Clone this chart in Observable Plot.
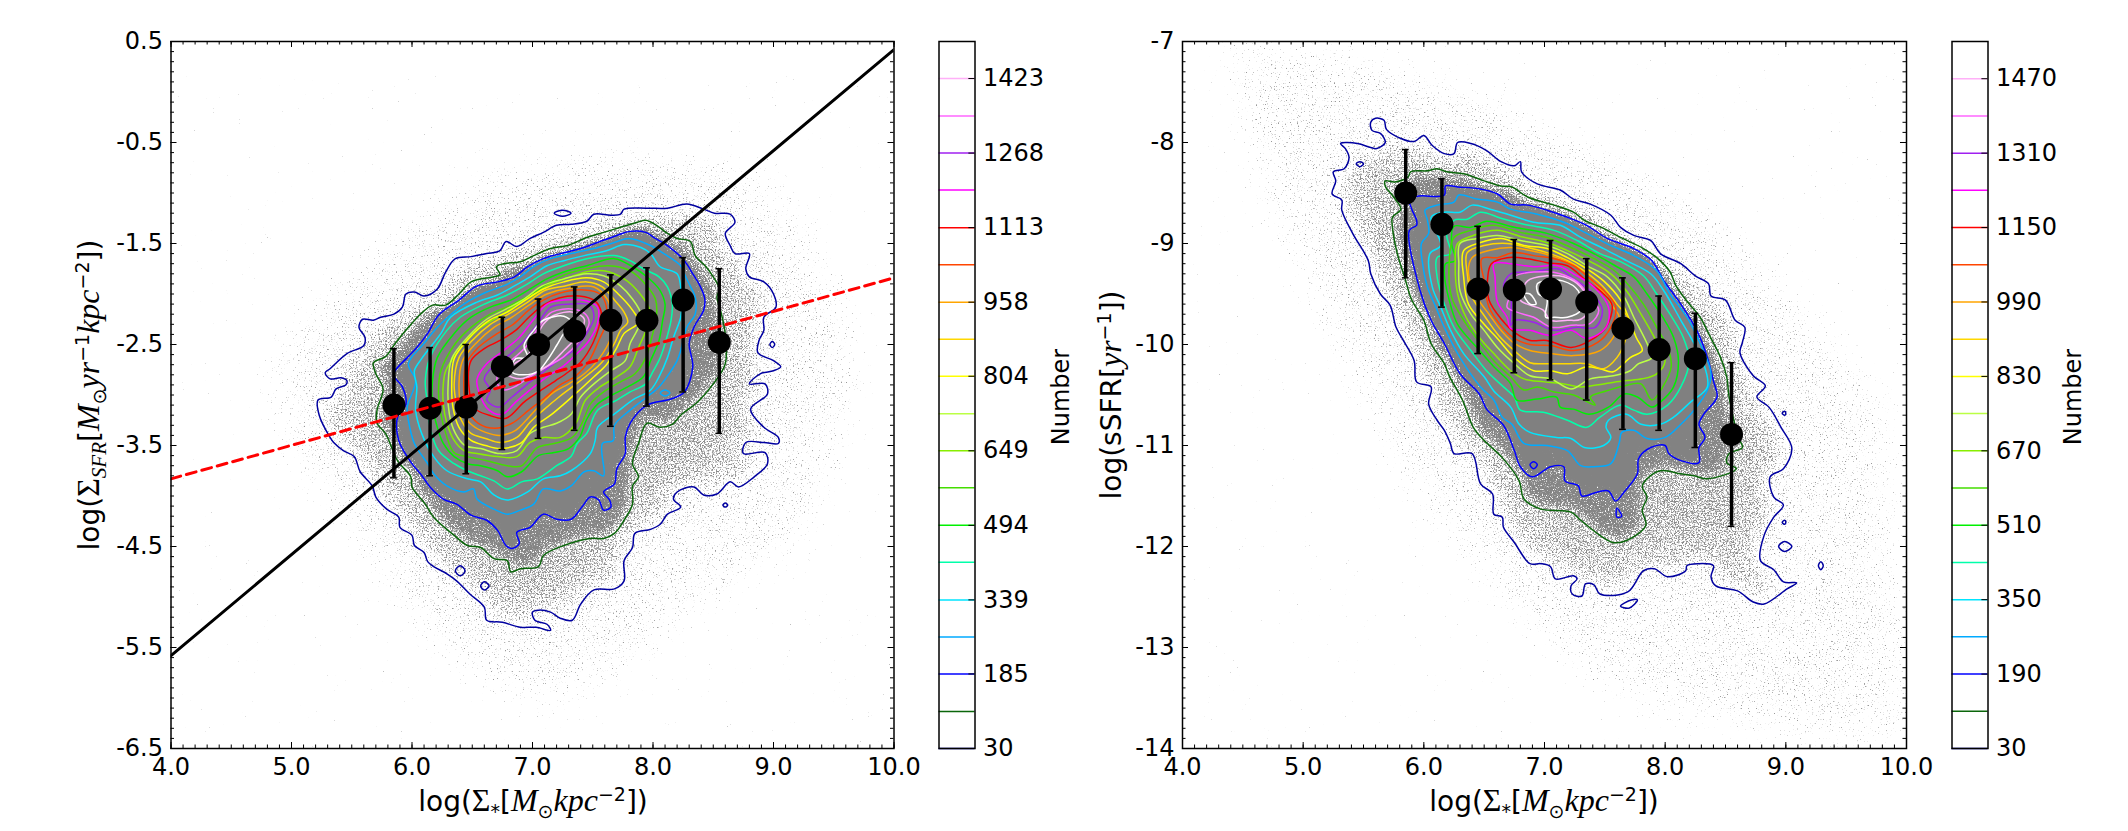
<!DOCTYPE html>
<html>
<head>
<meta charset="utf-8">
<script src="https://cdn.jsdelivr.net/npm/d3@7"></script>
<script src="https://cdn.jsdelivr.net/npm/@observablehq/plot@0.6"></script>
<style>
  body { margin: 0; background: #fff; font-family: "DejaVu Sans", sans-serif; color: #000; }
  #page { position: relative; width: 2128px; height: 831px; overflow: hidden; }
  .lab { position: absolute; white-space: nowrap; font-size: 28px; line-height: 1; transform: translate(-50%, -50%); }
  .lab.rot { transform: translate(-50%, -50%) rotate(-90deg); }
  .lab i, .lab .g { font-family: "Liberation Serif", serif; font-size: 32px; }
  .lab sub, .lab sup { font-size: 19px; line-height: 0; }
  .lab sub i, .lab sup i { font-size: 21px; }
</style>
</head>
<body>
<svg width="0" height="0" style="position:absolute">
  <defs id="stipples"></defs>
</svg>
<div id="page">
  <div class="lab" style="left:533px;top:800px">log(<span class="g">Σ</span><sub>*</sub>[<i>M</i><sub>⊙</sub><i>kpc</i><sup>−2</sup>])</div>
  <div class="lab rot" style="left:88px;top:395px">log(<span class="g">Σ</span><sub><i>SFR</i></sub>[<i>M</i><sub>⊙</sub><i>yr</i><sup>−1</sup><i>kpc</i><sup>−2</sup>])</div>
  <div class="lab" style="left:1544px;top:800px">log(<span class="g">Σ</span><sub>*</sub>[<i>M</i><sub>⊙</sub><i>kpc</i><sup>−2</sup>])</div>
  <div class="lab rot" style="left:1110px;top:395px">log(sSFR[<i>yr</i><sup>−1</sup>])</div>
  <div class="lab rot" style="left:1061px;top:397px;font-size:24px">Number</div>
  <div class="lab rot" style="left:2073px;top:397px;font-size:24px">Number</div>
</div>
<script>
// values
const xTicks = [4, 5, 6, 7, 8, 9, 10];
const leftYTicks = [0.5, -0.5, -1.5, -2.5, -3.5, -4.5, -5.5, -6.5];
const rightYTicks = [-7, -8, -9, -10, -11, -12, -13, -14];

const binX = [5.85, 6.15, 6.45, 6.75, 7.05, 7.35, 7.65, 7.95, 8.25, 8.55];
const leftMean = [-3.10, -3.13, -3.12, -2.72, -2.50, -2.37, -2.26, -2.26, -2.06, -2.48];
const leftTop = [-2.54, -2.53, -2.50, -2.23, -2.05, -1.93, -1.81, -1.74, -1.64, -1.75];
const leftBot = [-3.82, -3.80, -3.78, -3.54, -3.43, -3.35, -3.31, -3.11, -2.97, -3.38];
const rightMean = [-8.50, -8.81, -9.45, -9.46, -9.45, -9.58, -9.84, -10.05, -10.14, -10.89];
const rightTop = [-8.07, -8.36, -8.83, -8.96, -8.97, -9.15, -9.34, -9.52, -9.69, -10.18];
const rightBot = [-9.34, -9.63, -10.09, -10.28, -10.35, -10.55, -10.84, -10.85, -11.02, -11.80];

const blackLine = [[4, -5.58], [10, 0.42]];
const redLine = [[4, -3.83], [10, -1.84]];

const leftLevels = [30, 107, 185, 262, 339, 417, 494, 572, 649, 726, 804, 881, 958, 1036, 1113, 1191, 1268, 1345, 1423, 1500];
const leftBarTicks = [30, 185, 339, 494, 649, 804, 958, 1113, 1268, 1423];
const rightLevels = [30, 110, 190, 270, 350, 430, 510, 590, 670, 750, 830, 910, 990, 1070, 1150, 1230, 1310, 1390, 1470, 1550];
const rightBarTicks = [30, 190, 350, 510, 670, 830, 990, 1150, 1310, 1470];
const levelColors = ["#0000a0", "#0b660b", "#0000ff", "#00aaff", "#00e5ff", "#00ffaa", "#00f000", "#44dd00", "#88ee00", "#bbff44", "#ffff00", "#ffd700", "#ffa500", "#ff4500", "#ff0000", "#ff00ff", "#a020f0", "#ff66ff", "#ffb0f8", "#ffffff"];

// scatter cloud limits
const leftHalo = [[4.6,-3.0],[4.9,-2.1],[5.6,-1.4],[6.4,-0.7],[7.4,-0.4],[8.3,-0.4],[9.1,-0.7],[9.6,-1.6],[9.9,-2.7],[9.7,-3.6],[9.4,-4.6],[8.6,-5.2],[7.9,-5.9],[7.2,-6.3],[6.6,-6.1],[6.0,-5.6],[5.5,-4.8],[5.0,-3.9]];
const rightHalo = [[4.2,-6.9],[5.5,-6.9],[6.5,-7.3],[7.6,-7.9],[8.5,-8.5],[9.3,-9.5],[10,-10.5],[10.1,-12],[10.1,-14.1],[9.2,-14.1],[8.1,-13.9],[7.2,-13.4],[6.6,-12.8],[5.9,-11.8],[5.3,-10.6],[4.8,-9.4],[4.4,-8.2]];

// contours, left panel
const lNavy = [[5.32,-2.74],[5.46,-2.59],[5.60,-2.51],[5.61,-2.43],[5.56,-2.33],[5.59,-2.25],[5.68,-2.26],[5.74,-2.23],[5.85,-2.20],[5.92,-2.13],[5.95,-2.00],[6.02,-1.98],[6.10,-2.02],[6.21,-1.95],[6.28,-1.78],[6.36,-1.65],[6.49,-1.63],[6.62,-1.60],[6.73,-1.57],[6.78,-1.48],[6.87,-1.53],[6.98,-1.45],[7.09,-1.39],[7.20,-1.32],[7.32,-1.31],[7.45,-1.28],[7.51,-1.21],[7.65,-1.22],[7.73,-1.21],[7.76,-1.16],[7.95,-1.15],[8.12,-1.15],[8.28,-1.11],[8.42,-1.16],[8.51,-1.20],[8.64,-1.21],[8.68,-1.29],[8.60,-1.40],[8.64,-1.52],[8.68,-1.60],[8.80,-1.60],[8.77,-1.75],[8.80,-1.83],[8.92,-1.88],[9.00,-2.00],[9.02,-2.13],[8.92,-2.23],[8.92,-2.36],[8.88,-2.46],[8.87,-2.58],[9.00,-2.66],[9.06,-2.72],[9.00,-2.76],[8.89,-2.79],[8.80,-2.89],[8.93,-2.89],[8.95,-2.99],[8.81,-3.14],[8.92,-3.32],[9.04,-3.42],[9.04,-3.48],[8.92,-3.47],[8.77,-3.47],[8.75,-3.58],[8.93,-3.57],[8.95,-3.68],[8.84,-3.81],[8.71,-3.91],[8.64,-3.86],[8.53,-3.98],[8.42,-3.99],[8.34,-3.91],[8.20,-3.96],[8.17,-4.03],[8.23,-4.11],[8.12,-4.18],[8.06,-4.28],[7.98,-4.33],[7.85,-4.37],[7.83,-4.51],[7.76,-4.64],[7.76,-4.84],[7.68,-4.92],[7.51,-4.93],[7.40,-5.07],[7.33,-5.23],[7.23,-5.21],[7.15,-5.15],[7.05,-5.13],[7.00,-5.15],[7.02,-5.23],[7.12,-5.27],[7.15,-5.33],[7.03,-5.30],[6.90,-5.30],[6.75,-5.25],[6.62,-5.23],[6.60,-5.10],[6.48,-4.97],[6.37,-4.84],[6.29,-4.77],[6.18,-4.70],[6.13,-4.65],[6.10,-4.56],[6.02,-4.49],[6.00,-4.39],[5.90,-4.31],[5.89,-4.21],[5.79,-4.13],[5.70,-4.01],[5.67,-3.90],[5.57,-3.76],[5.52,-3.61],[5.43,-3.55],[5.35,-3.47],[5.32,-3.42],[5.23,-3.20],[5.22,-3.05],[5.33,-3.02],[5.37,-2.94],[5.45,-2.90],[5.46,-2.86],[5.41,-2.83],[5.32,-2.84],[5.28,-2.78]];
const lDarkGreen = [[5.68,-2.68],[5.78,-2.62],[5.86,-2.49],[5.97,-2.33],[6.07,-2.20],[6.17,-2.11],[6.28,-2.11],[6.39,-2.00],[6.49,-1.88],[6.68,-1.83],[6.73,-1.81],[6.70,-1.73],[6.76,-1.70],[6.90,-1.68],[7.01,-1.62],[7.15,-1.55],[7.29,-1.52],[7.45,-1.44],[7.59,-1.39],[7.73,-1.34],[7.87,-1.29],[7.94,-1.27],[8.03,-1.32],[8.12,-1.40],[8.20,-1.45],[8.31,-1.48],[8.35,-1.62],[8.44,-1.73],[8.50,-1.83],[8.55,-1.95],[8.53,-2.03],[8.56,-2.16],[8.60,-2.40],[8.60,-2.69],[8.50,-2.89],[8.37,-3.07],[8.23,-3.20],[8.16,-3.29],[8.06,-3.32],[7.95,-3.28],[7.88,-3.48],[7.83,-3.68],[7.88,-3.81],[7.83,-3.90],[7.83,-4.08],[7.76,-4.24],[7.68,-4.37],[7.59,-4.42],[7.48,-4.42],[7.26,-4.49],[7.09,-4.59],[7.05,-4.70],[6.90,-4.72],[6.82,-4.75],[6.79,-4.64],[6.68,-4.62],[6.57,-4.51],[6.46,-4.49],[6.35,-4.39],[6.18,-4.21],[6.11,-4.08],[6.00,-3.91],[5.99,-3.81],[5.88,-3.65],[5.78,-3.38],[5.71,-3.28],[5.71,-3.15],[5.76,-2.94],[5.70,-2.79]];
const lBlue = [[5.86,-2.76],[5.96,-2.63],[6.04,-2.53],[6.13,-2.39],[6.22,-2.21],[6.39,-2.06],[6.54,-1.92],[6.71,-1.88],[6.85,-1.83],[6.96,-1.73],[7.09,-1.65],[7.23,-1.60],[7.40,-1.55],[7.54,-1.49],[7.70,-1.42],[7.81,-1.38],[7.94,-1.39],[8.02,-1.45],[8.12,-1.52],[8.26,-1.67],[8.33,-1.80],[8.39,-1.92],[8.43,-2.05],[8.42,-2.16],[8.34,-2.33],[8.30,-2.49],[8.33,-2.72],[8.26,-2.97],[8.15,-3.04],[7.95,-3.10],[7.81,-3.28],[7.77,-3.42],[7.77,-3.58],[7.70,-3.73],[7.68,-3.88],[7.59,-3.96],[7.64,-4.04],[7.65,-4.11],[7.59,-4.14],[7.55,-4.04],[7.48,-4.01],[7.41,-4.11],[7.32,-4.23],[7.20,-4.23],[7.09,-4.18],[6.98,-4.31],[6.87,-4.36],[6.89,-4.47],[6.83,-4.52],[6.78,-4.49],[6.71,-4.34],[6.62,-4.24],[6.49,-4.19],[6.37,-4.08],[6.26,-4.03],[6.15,-3.91],[6.07,-3.78],[6.00,-3.68],[5.89,-3.45],[5.88,-3.22],[5.95,-3.09],[5.92,-2.92],[5.85,-2.81]];
const lDodger = [[5.97,-2.69],[6.10,-2.49],[6.21,-2.33],[6.28,-2.25],[6.43,-2.10],[6.62,-1.98],[6.76,-1.92],[6.90,-1.83],[7.01,-1.73],[7.15,-1.65],[7.32,-1.60],[7.51,-1.55],[7.68,-1.49],[7.80,-1.45],[7.98,-1.52],[8.09,-1.60],[8.23,-1.72],[8.26,-1.80],[8.30,-1.90],[8.35,-2.03],[8.35,-2.20],[8.28,-2.33],[8.23,-2.56],[8.20,-2.66],[8.15,-2.76],[8.05,-2.92],[7.95,-3.02],[7.81,-3.15],[7.68,-3.30],[7.67,-3.45],[7.58,-3.48],[7.59,-3.80],[7.51,-3.75],[7.43,-3.76],[7.32,-3.90],[7.23,-3.95],[7.09,-3.93],[7.01,-4.08],[6.90,-4.14],[6.79,-4.18],[6.68,-4.13],[6.54,-4.03],[6.51,-3.93],[6.43,-3.96],[6.29,-3.90],[6.18,-3.78],[6.13,-3.68],[6.02,-3.48],[5.97,-3.25],[5.96,-3.12],[6.03,-2.86]];
const lCyan = [[6.08,-2.64],[6.24,-2.39],[6.32,-2.23],[6.54,-2.08],[6.71,-2.01],[6.85,-1.92],[6.98,-1.83],[7.12,-1.72],[7.26,-1.67],[7.43,-1.62],[7.62,-1.57],[7.76,-1.51],[7.90,-1.54],[7.98,-1.60],[8.06,-1.73],[8.20,-1.80],[8.23,-1.93],[8.24,-2.10],[8.23,-2.23],[8.17,-2.43],[8.12,-2.63],[8.05,-2.82],[7.98,-2.95],[7.83,-3.05],[7.70,-3.17],[7.54,-3.32],[7.52,-3.45],[7.48,-3.58],[7.32,-3.75],[7.23,-3.80],[7.09,-3.83],[6.96,-3.96],[6.79,-4.04],[6.68,-3.99],[6.57,-3.86],[6.46,-3.83],[6.29,-3.75],[6.18,-3.61],[6.08,-3.38],[6.03,-3.15],[6.04,-2.92],[6.02,-2.76]];
const lSpring = [[6.15,-2.63],[6.29,-2.36],[6.40,-2.23],[6.60,-2.10],[6.79,-2.01],[6.96,-1.90],[7.09,-1.80],[7.26,-1.72],[7.45,-1.65],[7.68,-1.62],[7.81,-1.67],[7.92,-1.75],[8.05,-1.83],[8.12,-1.93],[8.16,-2.10],[8.15,-2.26],[8.10,-2.49],[8.06,-2.63],[7.99,-2.79],[7.94,-2.89],[7.81,-2.97],[7.70,-3.05],[7.54,-3.15],[7.45,-3.38],[7.37,-3.48],[7.32,-3.61],[7.20,-3.70],[7.04,-3.83],[6.91,-3.86],[6.79,-3.93],[6.68,-3.85],[6.57,-3.80],[6.46,-3.75],[6.35,-3.68],[6.22,-3.55],[6.15,-3.32],[6.13,-3.09],[6.11,-2.86]];
const lLime = [[6.21,-2.63],[6.35,-2.39],[6.49,-2.23],[6.65,-2.13],[6.82,-2.06],[6.98,-1.95],[7.12,-1.85],[7.29,-1.77],[7.45,-1.72],[7.68,-1.65],[7.83,-1.73],[7.95,-1.83],[8.05,-1.95],[8.10,-2.10],[8.08,-2.26],[8.05,-2.46],[7.98,-2.66],[7.92,-2.82],[7.79,-2.92],[7.66,-3.00],[7.54,-3.09],[7.45,-3.24],[7.39,-3.42],[7.30,-3.53],[7.18,-3.57],[7.05,-3.60],[6.91,-3.76],[6.79,-3.81],[6.71,-3.75],[6.57,-3.70],[6.46,-3.68],[6.35,-3.61],[6.26,-3.48],[6.21,-3.32],[6.17,-3.09],[6.17,-2.86]];
const lGreen = [[6.24,-2.76],[6.36,-2.49],[6.49,-2.33],[6.65,-2.20],[6.82,-2.11],[6.98,-2.01],[7.12,-1.90],[7.29,-1.80],[7.45,-1.75],[7.63,-1.72],[7.81,-1.77],[7.95,-1.92],[8.02,-2.05],[8.03,-2.21],[7.99,-2.43],[7.94,-2.63],[7.85,-2.79],[7.73,-2.87],[7.59,-2.97],[7.48,-3.09],[7.41,-3.28],[7.33,-3.42],[7.18,-3.48],[7.04,-3.52],[6.91,-3.70],[6.79,-3.70],[6.62,-3.65],[6.46,-3.61],[6.35,-3.57],[6.28,-3.38],[6.24,-3.19],[6.22,-2.96]];
const lLawn = [[6.28,-2.76],[6.39,-2.56],[6.54,-2.36],[6.71,-2.23],[6.87,-2.11],[7.01,-2.01],[7.15,-1.90],[7.32,-1.83],[7.45,-1.78],[7.59,-1.77],[7.76,-1.85],[7.88,-1.98],[7.97,-2.15],[7.95,-2.33],[7.88,-2.53],[7.81,-2.72],[7.70,-2.82],[7.56,-2.92],[7.44,-3.05],[7.36,-3.28],[7.23,-3.42],[7.09,-3.42],[6.98,-3.47],[6.87,-3.61],[6.71,-3.61],[6.54,-3.58],[6.43,-3.55],[6.35,-3.45],[6.29,-3.28],[6.26,-3.09],[6.26,-2.89]];
const lGreenYellow = [[6.30,-2.89],[6.33,-2.64],[6.46,-2.43],[6.62,-2.25],[6.78,-2.15],[6.93,-2.05],[7.08,-1.92],[7.26,-1.85],[7.45,-1.80],[7.59,-1.82],[7.73,-1.92],[7.83,-2.05],[7.90,-2.20],[7.88,-2.33],[7.81,-2.49],[7.77,-2.66],[7.65,-2.76],[7.51,-2.89],[7.40,-3.02],[7.32,-3.19],[7.20,-3.28],[7.09,-3.32],[6.98,-3.38],[6.87,-3.55],[6.73,-3.58],[6.57,-3.53],[6.44,-3.50],[6.36,-3.38],[6.31,-3.19]];
const lYellow = [[6.33,-2.89],[6.35,-2.64],[6.47,-2.44],[6.64,-2.26],[6.79,-2.18],[6.94,-2.06],[7.09,-1.95],[7.26,-1.88],[7.45,-1.84],[7.59,-1.88],[7.72,-2.01],[7.83,-2.16],[7.88,-2.28],[7.76,-2.39],[7.70,-2.53],[7.62,-2.69],[7.51,-2.82],[7.40,-2.94],[7.26,-3.09],[7.15,-3.20],[7.01,-3.32],[6.90,-3.48],[6.73,-3.53],[6.61,-3.50],[6.49,-3.45],[6.39,-3.32],[6.34,-3.12]];
const lGold = [[6.35,-2.89],[6.39,-2.63],[6.50,-2.46],[6.65,-2.30],[6.80,-2.20],[6.96,-2.08],[7.11,-1.96],[7.27,-1.92],[7.45,-1.88],[7.58,-1.93],[7.68,-2.06],[7.76,-2.18],[7.79,-2.28],[7.73,-2.36],[7.68,-2.49],[7.58,-2.67],[7.47,-2.79],[7.33,-2.92],[7.22,-3.02],[7.09,-3.15],[6.98,-3.27],[6.87,-3.42],[6.73,-3.47],[6.61,-3.43],[6.49,-3.38],[6.41,-3.25],[6.37,-3.09]];
const lOrange = [[6.39,-2.89],[6.42,-2.66],[6.53,-2.49],[6.68,-2.33],[6.83,-2.23],[6.97,-2.11],[7.12,-2.00],[7.32,-1.94],[7.51,-1.93],[7.62,-2.05],[7.65,-2.16],[7.65,-2.43],[7.54,-2.66],[7.43,-2.79],[7.30,-2.89],[7.18,-2.97],[7.07,-3.09],[6.97,-3.22],[6.86,-3.35],[6.73,-3.40],[6.61,-3.37],[6.50,-3.30],[6.42,-3.17]];
const lOrangeRed = [[6.43,-2.89],[6.45,-2.69],[6.55,-2.53],[6.71,-2.39],[6.84,-2.30],[6.97,-2.16],[7.09,-2.06],[7.23,-1.99],[7.43,-1.96],[7.56,-2.00],[7.61,-2.11],[7.61,-2.29],[7.55,-2.46],[7.47,-2.66],[7.36,-2.81],[7.23,-2.90],[7.09,-3.04],[6.97,-3.15],[6.83,-3.28],[6.69,-3.33],[6.55,-3.28],[6.46,-3.15]];
const lRed = [[6.47,-2.89],[6.49,-2.66],[6.60,-2.54],[6.73,-2.46],[6.86,-2.36],[6.97,-2.23],[7.09,-2.11],[7.22,-2.04],[7.39,-2.02],[7.52,-2.07],[7.57,-2.18],[7.55,-2.33],[7.50,-2.49],[7.41,-2.66],[7.30,-2.77],[7.19,-2.86],[7.05,-2.97],[6.93,-3.07],[6.78,-3.23],[6.64,-3.20],[6.52,-3.13]];
const lMagenta = [[6.55,-2.95],[6.54,-2.84],[6.62,-2.69],[6.76,-2.56],[6.89,-2.43],[7.01,-2.25],[7.12,-2.10],[7.26,-2.06],[7.45,-2.07],[7.54,-2.13],[7.54,-2.29],[7.47,-2.46],[7.37,-2.59],[7.26,-2.71],[7.12,-2.82],[6.98,-2.95],[6.86,-3.07],[6.75,-3.19],[6.64,-3.15]];
const lPurple = [[6.62,-3.05],[6.65,-2.95],[6.60,-2.84],[6.67,-2.72],[6.79,-2.62],[6.91,-2.49],[7.04,-2.30],[7.15,-2.13],[7.32,-2.10],[7.47,-2.11],[7.51,-2.23],[7.45,-2.39],[7.34,-2.56],[7.20,-2.67],[7.09,-2.77],[6.96,-2.89],[6.83,-3.02],[6.72,-3.12]];
const lViolet = [[6.71,-2.89],[6.72,-2.76],[6.82,-2.66],[6.94,-2.53],[7.05,-2.33],[7.16,-2.18],[7.34,-2.15],[7.44,-2.20],[7.47,-2.29],[7.39,-2.46],[7.26,-2.62],[7.12,-2.72],[6.98,-2.82],[6.85,-2.92],[6.76,-2.95]];
const lPink = [[6.79,-2.79],[6.85,-2.69],[6.96,-2.61],[7.02,-2.46],[7.09,-2.30],[7.18,-2.21],[7.34,-2.18],[7.43,-2.25],[7.39,-2.39],[7.26,-2.56],[7.15,-2.69],[7.04,-2.77],[6.90,-2.84]];
const lWhite = [[6.83,-2.77],[6.86,-2.64],[6.96,-2.63],[6.93,-2.51],[7.01,-2.36],[7.09,-2.26],[7.26,-2.22],[7.33,-2.29],[7.26,-2.39],[7.20,-2.51],[7.12,-2.66],[7.05,-2.76],[6.93,-2.80]];
const leftContours = [lNavy, lDarkGreen, lBlue, lDodger, lCyan, lSpring, lLime, lGreen, lLawn, lGreenYellow, lYellow, lGold, lOrange, lOrangeRed, lRed, lMagenta, lPurple, lViolet, lPink, lWhite];
const leftIslands = [
  [0, [[7.18,-1.20],[7.25,-1.17],[7.32,-1.20],[7.25,-1.23]]],
  [0, [[6.36,-4.74],[6.40,-4.69],[6.44,-4.74],[6.40,-4.79]]],
  [0, [[6.57,-4.89],[6.60,-4.85],[6.64,-4.89],[6.60,-4.93]]],
  [0, [[8.97,-2.50],[8.99,-2.47],[9.01,-2.50],[8.99,-2.53]]],
  [0, [[8.58,-4.09],[8.60,-4.07],[8.62,-4.09],[8.60,-4.11]]],
  [3, [[8.06,-2.98],[8.10,-2.95],[8.14,-2.98],[8.10,-3.01]]]
];

// contours, right panel
const rNavy = [[5.31,-8.01],[5.45,-8.01],[5.56,-8.05],[5.61,-8.06],[5.68,-8.00],[5.64,-7.91],[5.57,-7.88],[5.56,-7.80],[5.60,-7.76],[5.67,-7.78],[5.69,-7.87],[5.81,-7.96],[5.92,-7.99],[6.00,-7.93],[6.07,-8.03],[6.17,-8.11],[6.25,-8.11],[6.28,-8.00],[6.39,-8.01],[6.52,-8.08],[6.64,-8.19],[6.75,-8.23],[6.80,-8.19],[6.81,-8.29],[6.94,-8.41],[7.13,-8.47],[7.24,-8.56],[7.38,-8.61],[7.55,-8.72],[7.63,-8.84],[7.74,-8.92],[7.88,-8.97],[7.96,-9.10],[8.13,-9.20],[8.25,-9.32],[8.36,-9.40],[8.38,-9.52],[8.50,-9.56],[8.58,-9.76],[8.66,-9.83],[8.64,-9.98],[8.62,-10.08],[8.73,-10.31],[8.83,-10.41],[8.76,-10.52],[8.86,-10.62],[8.96,-10.82],[9.05,-11.03],[8.98,-11.23],[8.87,-11.31],[8.90,-11.51],[8.98,-11.59],[8.90,-11.71],[8.82,-11.89],[8.79,-12.14],[8.90,-12.23],[8.98,-12.35],[9.09,-12.36],[9.01,-12.42],[8.82,-12.57],[8.73,-12.55],[8.60,-12.44],[8.42,-12.39],[8.38,-12.30],[8.40,-12.19],[8.27,-12.17],[8.18,-12.19],[8.17,-12.24],[8.02,-12.30],[7.91,-12.22],[7.82,-12.24],[7.69,-12.45],[7.46,-12.47],[7.41,-12.38],[7.34,-12.37],[7.31,-12.49],[7.23,-12.47],[7.22,-12.39],[7.27,-12.32],[7.24,-12.29],[7.09,-12.32],[7.05,-12.20],[6.97,-12.17],[6.88,-12.17],[6.75,-11.96],[6.66,-11.81],[6.65,-11.71],[6.58,-11.68],[6.57,-11.48],[6.47,-11.38],[6.40,-11.08],[6.25,-11.08],[6.22,-10.98],[6.17,-10.85],[6.11,-10.75],[6.04,-10.59],[6.06,-10.42],[5.94,-10.37],[5.92,-10.16],[5.83,-9.96],[5.77,-9.83],[5.72,-9.61],[5.64,-9.50],[5.56,-9.30],[5.54,-9.17],[5.41,-8.90],[5.32,-8.67],[5.32,-8.57],[5.24,-8.51],[5.27,-8.38],[5.25,-8.29],[5.34,-8.26],[5.38,-8.15],[5.35,-8.06]];
const rDarkGreen = [[5.68,-8.38],[5.76,-8.39],[5.87,-8.34],[5.89,-8.29],[6.03,-8.28],[6.11,-8.26],[6.19,-8.29],[6.33,-8.31],[6.50,-8.38],[6.64,-8.43],[6.73,-8.44],[6.86,-8.54],[7.08,-8.62],[7.24,-8.69],[7.33,-8.77],[7.49,-8.85],[7.63,-8.94],[7.82,-9.05],[7.93,-9.14],[8.04,-9.28],[8.09,-9.42],[8.18,-9.57],[8.29,-9.73],[8.38,-9.94],[8.46,-10.13],[8.51,-10.32],[8.53,-10.52],[8.61,-10.93],[8.64,-11.02],[8.53,-11.08],[8.51,-11.17],[8.59,-11.23],[8.35,-11.33],[8.24,-11.30],[8.13,-11.28],[7.96,-11.25],[7.85,-11.33],[7.81,-11.41],[7.85,-11.51],[7.81,-11.64],[7.84,-11.79],[7.68,-11.94],[7.57,-11.96],[7.46,-11.89],[7.30,-11.74],[7.22,-11.66],[6.97,-11.63],[6.83,-11.53],[6.79,-11.35],[6.65,-11.12],[6.50,-10.95],[6.41,-10.82],[6.32,-10.55],[6.21,-10.31],[6.17,-10.19],[6.06,-9.99],[6.00,-9.76],[5.90,-9.56],[5.84,-9.33],[5.78,-9.10],[5.74,-8.84],[5.74,-8.74],[5.81,-8.66],[5.75,-8.54],[5.68,-8.43]];
const rBlue = [[5.96,-8.53],[6.17,-8.52],[6.18,-8.43],[6.28,-8.44],[6.47,-8.46],[6.61,-8.51],[6.72,-8.61],[6.86,-8.62],[7.02,-8.67],[7.19,-8.74],[7.35,-8.82],[7.52,-8.95],[7.74,-9.05],[7.89,-9.17],[7.99,-9.37],[8.13,-9.60],[8.27,-9.88],[8.35,-10.13],[8.40,-10.36],[8.43,-10.52],[8.32,-10.69],[8.28,-10.79],[8.33,-10.92],[8.28,-11.02],[8.28,-11.17],[8.13,-11.15],[8.03,-11.08],[8.00,-11.00],[7.88,-11.02],[7.78,-11.13],[7.77,-11.28],[7.66,-11.46],[7.59,-11.55],[7.53,-11.45],[7.44,-11.46],[7.31,-11.50],[7.28,-11.40],[7.17,-11.35],[7.16,-11.21],[7.05,-11.21],[6.90,-11.31],[6.80,-11.21],[6.75,-11.05],[6.66,-10.80],[6.52,-10.64],[6.46,-10.49],[6.30,-10.29],[6.17,-9.99],[6.06,-9.76],[5.97,-9.47],[5.88,-8.87],[5.94,-8.82],[5.94,-8.77],[5.90,-8.66],[5.88,-8.56]];
const rDodger = [[6.01,-8.67],[6.11,-8.62],[6.25,-8.59],[6.29,-8.52],[6.44,-8.56],[6.61,-8.59],[6.72,-8.66],[6.94,-8.71],[7.16,-8.79],[7.35,-8.90],[7.55,-9.02],[7.74,-9.12],[7.93,-9.27],[8.04,-9.50],[8.18,-9.73],[8.29,-9.99],[8.38,-10.29],[8.35,-10.45],[8.24,-10.65],[8.13,-10.79],[8.00,-10.92],[7.85,-10.93],[7.74,-10.85],[7.64,-10.87],[7.62,-10.97],[7.55,-11.18],[7.41,-11.21],[7.30,-11.20],[7.19,-11.05],[7.02,-11.00],[6.83,-10.98],[6.73,-10.79],[6.65,-10.72],[6.58,-10.55],[6.47,-10.42],[6.30,-10.13],[6.17,-9.83],[6.10,-9.63],[6.03,-9.43],[5.99,-9.20],[5.98,-9.00],[6.04,-8.90],[6.03,-8.77]];
const rCyan = [[6.06,-8.74],[6.17,-8.69],[6.30,-8.69],[6.40,-8.62],[6.55,-8.66],[6.72,-8.72],[6.91,-8.79],[7.13,-8.82],[7.30,-8.94],[7.49,-9.05],[7.68,-9.17],[7.88,-9.30],[7.99,-9.47],[8.13,-9.76],[8.24,-9.99],[8.31,-10.16],[8.35,-10.42],[8.21,-10.57],[8.07,-10.72],[7.96,-10.79],[7.80,-10.79],[7.68,-10.69],[7.53,-10.75],[7.51,-10.82],[7.55,-10.92],[7.49,-11.00],[7.33,-11.02],[7.22,-10.93],[7.10,-10.92],[6.88,-10.87],[6.79,-10.79],[6.72,-10.62],[6.58,-10.46],[6.50,-10.32],[6.33,-10.09],[6.21,-9.83],[6.14,-9.63],[6.07,-9.43],[6.05,-9.10],[6.14,-9.02]];
const rSpring = [[6.25,-8.77],[6.36,-8.76],[6.47,-8.69],[6.64,-8.75],[6.83,-8.81],[7.08,-8.87],[7.27,-8.97],[7.46,-9.10],[7.63,-9.18],[7.82,-9.32],[7.93,-9.50],[8.04,-9.70],[8.15,-9.93],[8.20,-10.16],[8.13,-10.42],[8.02,-10.60],[7.85,-10.69],[7.74,-10.65],[7.63,-10.60],[7.46,-10.72],[7.35,-10.82],[7.19,-10.75],[6.99,-10.67],[6.80,-10.65],[6.75,-10.52],[6.66,-10.42],[6.52,-10.26],[6.39,-10.06],[6.25,-9.83],[6.17,-9.60],[6.11,-9.33],[6.11,-9.14],[6.22,-9.10],[6.19,-8.91]];
const rLime = [[6.25,-8.83],[6.39,-8.84],[6.52,-8.78],[6.75,-8.84],[7.02,-8.90],[7.24,-9.00],[7.44,-9.12],[7.60,-9.23],[7.74,-9.33],[7.85,-9.50],[7.98,-9.73],[8.07,-9.93],[8.11,-10.16],[8.07,-10.42],[7.96,-10.57],[7.89,-10.62],[7.77,-10.52],[7.66,-10.49],[7.53,-10.62],[7.37,-10.69],[7.24,-10.64],[7.13,-10.62],[7.10,-10.52],[6.94,-10.54],[6.77,-10.55],[6.72,-10.39],[6.58,-10.22],[6.44,-10.03],[6.28,-9.80],[6.21,-9.56],[6.17,-9.30],[6.18,-9.20],[6.26,-9.17],[6.23,-9.00]];
const rGreen = [[6.25,-8.94],[6.39,-8.87],[6.58,-8.82],[6.80,-8.89],[7.02,-8.94],[7.22,-9.04],[7.41,-9.15],[7.58,-9.27],[7.71,-9.43],[7.82,-9.60],[7.93,-9.83],[8.03,-10.06],[8.05,-10.22],[7.98,-10.42],[7.89,-10.55],[7.80,-10.39],[7.66,-10.41],[7.51,-10.46],[7.38,-10.52],[7.42,-10.60],[7.24,-10.50],[7.08,-10.47],[6.94,-10.42],[6.83,-10.45],[6.72,-10.32],[6.58,-10.16],[6.47,-9.99],[6.33,-9.76],[6.23,-9.53],[6.21,-9.20]];
const rLawn = [[6.28,-9.00],[6.41,-8.92],[6.61,-8.87],[6.80,-8.93],[7.02,-8.99],[7.19,-9.07],[7.38,-9.18],[7.55,-9.30],[7.68,-9.47],[7.80,-9.70],[7.91,-9.93],[8.00,-10.16],[7.93,-10.29],[7.81,-10.34],[7.66,-10.36],[7.49,-10.39],[7.30,-10.42],[7.16,-10.39],[7.00,-10.37],[6.83,-10.34],[6.72,-10.26],[6.58,-10.09],[6.46,-9.93],[6.35,-9.73],[6.28,-9.50],[6.26,-9.20]];
const rGreenYellow = [[6.30,-9.00],[6.44,-8.95],[6.61,-8.92],[6.80,-8.97],[7.02,-9.02],[7.19,-9.10],[7.35,-9.22],[7.52,-9.33],[7.66,-9.53],[7.74,-9.73],[7.85,-9.99],[7.89,-10.13],[7.78,-10.19],[7.71,-10.26],[7.57,-10.31],[7.38,-10.34],[7.22,-10.44],[7.05,-10.34],[6.88,-10.31],[6.75,-10.19],[6.61,-10.03],[6.50,-9.86],[6.39,-9.70],[6.30,-9.47],[6.29,-9.20]];
const rYellow = [[6.33,-9.07],[6.47,-8.99],[6.64,-8.95],[6.83,-9.02],[7.02,-9.05],[7.19,-9.14],[7.35,-9.25],[7.49,-9.37],[7.63,-9.56],[7.76,-9.93],[7.81,-10.06],[7.71,-10.13],[7.57,-10.27],[7.46,-10.24],[7.35,-10.22],[7.19,-10.29],[7.05,-10.26],[6.91,-10.26],[6.75,-10.13],[6.61,-9.94],[6.50,-9.80],[6.37,-9.60],[6.33,-9.33]];
const rGold = [[6.36,-9.09],[6.50,-9.02],[6.69,-9.00],[6.86,-9.04],[7.02,-9.09],[7.19,-9.17],[7.34,-9.28],[7.48,-9.42],[7.60,-9.60],[7.70,-9.76],[7.66,-9.99],[7.60,-10.13],[7.49,-10.24],[7.35,-10.19],[7.19,-10.19],[7.02,-10.19],[6.88,-10.18],[6.75,-10.06],[6.62,-9.91],[6.51,-9.73],[6.40,-9.53],[6.36,-9.30]];
const rOrange = [[6.40,-9.14],[6.54,-9.07],[6.72,-9.04],[6.88,-9.07],[7.05,-9.12],[7.22,-9.20],[7.35,-9.32],[7.48,-9.47],[7.57,-9.63],[7.62,-9.73],[7.57,-9.93],[7.46,-10.06],[7.24,-10.11],[7.05,-10.09],[6.88,-10.06],[6.75,-9.99],[6.64,-9.86],[6.54,-9.70],[6.44,-9.53],[6.37,-9.30]];
const rOrangeRed = [[6.48,-9.15],[6.61,-9.14],[6.75,-9.09],[6.91,-9.12],[7.08,-9.15],[7.24,-9.22],[7.38,-9.35],[7.52,-9.50],[7.59,-9.63],[7.55,-9.83],[7.44,-9.98],[7.24,-10.06],[7.05,-10.01],[6.88,-10.00],[6.75,-9.94],[6.65,-9.83],[6.54,-9.63],[6.50,-9.37]];
const rRed = [[6.56,-9.20],[6.69,-9.14],[6.86,-9.15],[7.02,-9.19],[7.19,-9.22],[7.35,-9.37],[7.49,-9.50],[7.56,-9.61],[7.51,-9.83],[7.38,-9.96],[7.22,-10.03],[7.02,-9.96],[6.88,-9.96],[6.75,-9.88],[6.65,-9.76],[6.54,-9.56],[6.53,-9.33]];
const rMagenta = [[6.58,-9.20],[6.72,-9.20],[6.91,-9.23],[7.11,-9.22],[7.24,-9.30],[7.41,-9.43],[7.53,-9.63],[7.51,-9.83],[7.35,-9.94],[7.22,-9.86],[7.05,-9.91],[6.88,-9.86],[6.72,-9.84],[6.69,-9.73],[6.61,-9.58],[6.59,-9.33]];
const rPurple = [[6.72,-9.30],[6.91,-9.28],[7.11,-9.25],[7.24,-9.35],[7.38,-9.47],[7.48,-9.66],[7.42,-9.83],[7.27,-9.83],[7.08,-9.86],[6.91,-9.78],[6.75,-9.76],[6.72,-9.81],[6.72,-9.53],[6.66,-9.43]];
const rViolet = [[6.75,-9.33],[7.02,-9.28],[7.13,-9.30],[7.27,-9.38],[7.37,-9.52],[7.45,-9.66],[7.38,-9.79],[7.22,-9.81],[7.06,-9.83],[6.91,-9.73],[6.77,-9.68],[6.69,-9.63],[6.72,-9.50]];
const rPink = [[6.86,-9.37],[7.02,-9.32],[7.16,-9.33],[7.30,-9.43],[7.38,-9.63],[7.30,-9.75],[7.19,-9.76],[7.05,-9.76],[6.99,-9.66],[6.88,-9.61],[6.80,-9.56]];
const rWhite = [[6.94,-9.40],[7.02,-9.37],[7.15,-9.37],[7.28,-9.47],[7.30,-9.66],[7.19,-9.73],[7.08,-9.73],[7.01,-9.73],[7.02,-9.55],[6.95,-9.50]];
const rightContours = [rNavy, rDarkGreen, rBlue, rDodger, rCyan, rSpring, rLime, rGreen, rLawn, rGreenYellow, rYellow, rGold, rOrange, rOrangeRed, rRed, rMagenta, rPurple, rViolet, rPink, rWhite];
const rightIslands = [
  [0, [[5.44,-8.21],[5.47,-8.19],[5.50,-8.21],[5.47,-8.24]]],
  [0, [[7.63,-12.59],[7.72,-12.53],[7.77,-12.53],[7.70,-12.61]]],
  [2, [[7.60,-11.62],[7.64,-11.70],[7.60,-11.71]]],
  [2, [[6.88,-11.19],[6.91,-11.16],[6.94,-11.19],[6.91,-11.23]]],
  [0, [[8.97,-10.68],[8.99,-10.66],[9.00,-10.68],[8.99,-10.70]]],
  [0, [[8.97,-11.76],[8.99,-11.74],[9.00,-11.76],[8.99,-11.78]]],
  [0, [[8.94,-12.0],[8.99,-11.95],[9.05,-12.0],[8.99,-12.05]]],
  [0, [[9.27,-12.19],[9.29,-12.15],[9.31,-12.19],[9.29,-12.23]]],
  [19, [[6.83,-9.50],[6.88,-9.60],[6.93,-9.60],[6.88,-9.50]]]
];

// stipple filters: noise thresholded by the blurred polygon
function addStipple(id, blur, gain, offset, slope, color, seed) {
  const defs = document.getElementById("stipples");
  defs.insertAdjacentHTML("beforeend", `
  <filter id="${id}" x="-30%" y="-30%" width="160%" height="160%" color-interpolation-filters="sRGB">
    <feGaussianBlur in="SourceAlpha" stdDeviation="${blur}" result="soft"/>
    <feTurbulence type="fractalNoise" baseFrequency="0.73" numOctaves="2" seed="${seed}" result="n"/>
    <feColorMatrix in="n" type="matrix" values="0 0 0 0 0  0 0 0 0 0  0 0 0 0 0  1 0 0 0 0" result="na"/>
    <feComposite in="na" in2="soft" operator="arithmetic" k1="0" k2="1" k3="${gain}" k4="${-offset}" result="sum"/>
    <feComponentTransfer in="sum" result="mask"><feFuncA type="linear" slope="${slope}" intercept="0"/></feComponentTransfer>
    <feFlood flood-color="${color}"/>
    <feComposite in2="mask" operator="in"/>
  </filter>`);
}
addStipple("st-halo", 30, 0.36, 1, 6, "#9a9a9a", 3);
addStipple("st-near", 30, 0.33, 0.81, 6, "#929292", 4);
addStipple("st-navy", 10, 0.46, 1, 7, "#8a8a8a", 5);
addStipple("st-green", 7, 0.68, 1, 7, "#858585", 8);
addStipple("st-blue", 4, 0.9, 1, 7, "#828282", 11);

const stipple = (id) => (index, scales, values, dims, context, next) => {
  const g = next(index, scales, values, dims, context);
  g.setAttribute("filter", `url(#${id})`);
  return g;
};

const px = (d) => d[0];
const py = (d) => d[1];

function cloud(pts, id) {
  return Plot.line(pts, { x: px, y: py, fill: "#808080", stroke: "none", curve: "catmull-rom-closed", clip: "frame", render: stipple(id) });
}

function contour(pts, color) {
  return Plot.line(pts, { x: px, y: py, stroke: color, strokeWidth: 1.5, curve: "catmull-rom-closed", clip: "frame" });
}

function panel(o) {
  const [y0, y1] = o.yDomain;
  const xStep = 6 / 723; // data per pixel
  const yStep = 7 / 707;
  const xMinor = d3.range(40, 101).map((d) => d / 10);
  const yMinor = d3.range(Math.round(y0 * 10), Math.round(y1 * 10) + 1).map((d) => d / 10);
  const tickMarks = (list, len, w) => [
    Plot.ruleX(list.x, { x: (d) => d, y1: y0, y2: y0 + len * yStep, strokeWidth: w }),
    Plot.ruleX(list.x, { x: (d) => d, y1: y1, y2: y1 - len * yStep, strokeWidth: w }),
    Plot.ruleY(list.y, { y: (d) => d, x1: 4, x2: 4 + len * xStep, strokeWidth: w }),
    Plot.ruleY(list.y, { y: (d) => d, x1: 10, x2: 10 - len * xStep, strokeWidth: w })
  ];
  return Plot.plot({
    width: o.width,
    height: 800,
    marginLeft: o.marginLeft,
    marginRight: o.marginRight,
    marginTop: 41,
    marginBottom: 52,
    style: { fontFamily: "DejaVu Sans", fontSize: "24px", background: "transparent", overflow: "visible", position: "absolute", left: o.left + "px", top: "0" },
    x: { domain: [4, 10] },
    y: { domain: [y0, y1] },
    marks: [
      cloud(o.halo, "st-halo"),
      cloud(o.contours[0], "st-near"),
      cloud(o.contours[0], "st-navy"),
      cloud(o.contours[1], "st-green"),
      cloud(o.contours[2], "st-blue"),
      Plot.line(o.contours[3], { x: px, y: py, fill: "#808080", stroke: "none", curve: "catmull-rom-closed" }),
      o.contours.map((c, i) => contour(c, levelColors[i])),
      o.islands.map(([k, c]) => contour(c, levelColors[k])),
      Plot.line(blackLine, { x: px, y: py, stroke: "#000", strokeWidth: 3, clip: "frame" }),
      Plot.ruleX(binX, { x: (d) => d, y1: (d, i) => o.bot[i], y2: (d, i) => o.top[i], stroke: "#000", strokeWidth: 3.5 }),
      Plot.ruleY(binX, { y: (d, i) => o.top[i], x1: (d) => d - 0.028, x2: (d) => d + 0.028, stroke: "#000", strokeWidth: 1.5 }),
      Plot.ruleY(binX, { y: (d, i) => o.bot[i], x1: (d) => d - 0.028, x2: (d) => d + 0.028, stroke: "#000", strokeWidth: 1.5 }),
      Plot.dot(binX, { x: (d) => d, y: (d, i) => o.mean[i], r: 11.5, fill: "#000", stroke: "none" }),
      o.showRed ? Plot.line(redLine, { x: px, y: py, stroke: "#ff0000", strokeWidth: 3, strokeDasharray: "10 6", clip: "frame" }) : null,
      tickMarks({ x: xMinor, y: yMinor }, 3.5, 1),
      tickMarks({ x: xTicks, y: o.yTicks }, 6, 1),
      Plot.frame({ stroke: "#000", strokeWidth: 1.5 }),
      Plot.axisX({ ticks: xTicks, tickSize: 0, tickPadding: 9, tickFormat: (d) => d.toFixed(1), label: null, fontSize: 24 }),
      Plot.axisY({ ticks: o.yTicks, tickSize: 0, tickPadding: 8, tickFormat: o.yFormat, label: null, fontSize: 24 })
    ]
  });
}

function colorbar(o) {
  return Plot.plot({
    width: 130,
    height: 800,
    marginLeft: 0.5,
    marginRight: 130 - 36.5,
    marginTop: 41,
    marginBottom: 52,
    style: { fontFamily: "DejaVu Sans", fontSize: "24px", background: "transparent", overflow: "visible", position: "absolute", left: o.left + "px", top: "0" },
    x: { domain: [0, 1], axis: null },
    y: { domain: [o.levels[0], o.levels[19]] },
    marks: [
      Plot.ruleY(o.levels, { y: (d) => d, x1: 0, x2: 1, stroke: (d, i) => levelColors[i], strokeWidth: 1.5 }),
      Plot.ruleY(o.ticks, { y: (d) => d, x1: 0.83, x2: 1, stroke: "#000", strokeWidth: 1 }),
      Plot.frame({ stroke: "#000", strokeWidth: 1.5 }),
      Plot.axisY({ anchor: "right", ticks: o.ticks, tickSize: 0, tickPadding: 8, tickFormat: (d) => String(d), label: null, fontSize: 24 })
    ]
  });
}

const page = document.getElementById("page");
page.append(panel({
  left: 0, width: 930, marginLeft: 170.5, marginRight: 36.5, yDomain: [-6.5, 0.5], halo: leftHalo,
  contours: leftContours, islands: leftIslands, mean: leftMean, top: leftTop, bot: leftBot, showRed: true,
  yTicks: leftYTicks, yFormat: (d) => d.toFixed(1)
}));
page.append(colorbar({ left: 938, levels: leftLevels, ticks: leftBarTicks }));
page.append(panel({
  left: 1100, width: 842, marginLeft: 82, marginRight: 36, yDomain: [-14, -7], halo: rightHalo,
  contours: rightContours, islands: rightIslands, mean: rightMean, top: rightTop, bot: rightBot, showRed: false,
  yTicks: rightYTicks, yFormat: (d) => String(d)
}));
page.append(colorbar({ left: 1951, levels: rightLevels, ticks: rightBarTicks }));
</script>
</body>
</html>
